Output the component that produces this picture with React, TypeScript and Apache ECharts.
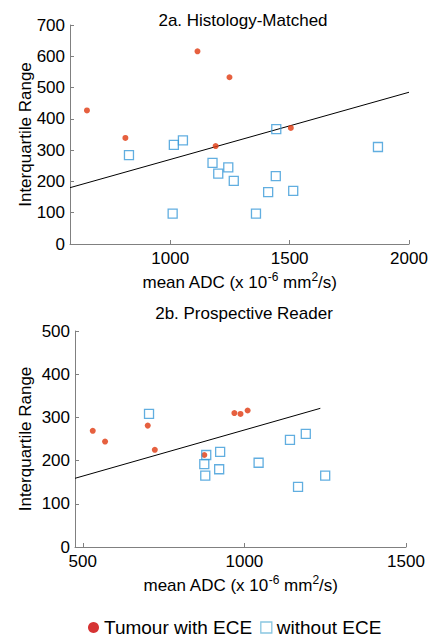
import React, { useEffect, useRef } from "react";
import * as echarts from "echarts";

const histRedX = [651, 812, 1114, 1248, 1190, 1505];
const histRedY = [427, 339, 616, 533, 313, 371];
const histBlueX = [827, 1015, 1053, 1444, 1870, 1177, 1201, 1243, 1266, 1010, 1359, 1410, 1442, 1515];
const histBlueY = [284, 317, 331, 367, 310, 259, 225, 245, 202, 97, 97, 166, 217, 170];
const histFitX = [580, 2000];
const histFitY = [180, 485];

const prospRedX = [531, 569, 701, 723, 876, 969, 988, 1010];
const prospRedY = [269, 244, 281, 225, 213, 310, 308, 316];
const prospBlueX = [705, 882, 925, 1141, 1190, 876, 879, 922, 1044, 1166, 1250];
const prospBlueY = [308, 213, 220, 248, 262, 192, 165, 180, 195, 139, 165];
const prospFitX = [476, 1235];
const prospFitY = [159, 321];

const histXTicks = [1000, 1500, 2000];
const prospXTicks = [500, 1000, 1500];

const titles = ["2a. Histology-Matched", "2b. Prospective Reader"];
const RED = "Tumour with ECE";
const BLUE = "without ECE";

const zip = (xs: number[], ys: number[]) => xs.map((x, i) => [x, ys[i]]);

const FONT = "'Liberation Sans', Arial, sans-serif";
const FS = 17;

export default function App() {
  const ref = useRef<HTMLDivElement>(null);
  useEffect(() => {
    document.body.style.margin = "0";
    const chart = echarts.init(ref.current!, undefined, { renderer: "svg" });
    const axisCommon = {
      axisLine: { show: true, lineStyle: { color: "#808080", width: 1 } },
      axisTick: { show: true, inside: true, length: 4, lineStyle: { color: "#808080" } },
      splitLine: { show: false },
    };
    const xName = "mean ADC (x 10{sup|-6} mm{sup|2}/s)";
    const nameStyle = {
      fontSize: FS,
      color: "#000",
      fontFamily: FONT,
      rich: {
        sup: { fontSize: 12, verticalAlign: "top", padding: [0, 0, 10, 0], color: "#000", fontFamily: FONT },
      },
    };
    const plain = (v: number) => String(v);
    const xAxisFor = (min: number, max: number, ticks: number[], gridIndex: number) => ({
      type: "value",
      gridIndex,
      min,
      max,
      name: xName,
      nameLocation: "middle",
      nameGap: 27,
      nameTextStyle: nameStyle,
      ...axisCommon,
      axisTick: { ...axisCommon.axisTick, customValues: ticks },
      axisLabel: { customValues: ticks, formatter: plain, fontSize: FS, color: "#000", fontFamily: FONT, margin: 6 },
    });
    const yAxisFor = (max: number, gridIndex: number, gap: number) => ({
      type: "value",
      gridIndex,
      min: 0,
      max,
      interval: 100,
      name: "Interquartile Range",
      nameLocation: "middle",
      nameGap: gap,
      nameMoveOverlap: false,
      nameTextStyle: { fontSize: FS, color: "#000", fontFamily: FONT },
      ...axisCommon,
      axisLabel: { formatter: plain, fontSize: FS, color: "#000", fontFamily: FONT, margin: 5 },
    });
    const redSeries = (data: number[][], i: number) => ({
      name: RED,
      type: "scatter",
      xAxisIndex: i,
      yAxisIndex: i,
      data,
      symbol: "circle",
      symbolSize: 6,
      itemStyle: { color: "#e0380f" },
      z: 3,
    });
    const blueSeries = (data: number[][], i: number) => ({
      name: BLUE,
      type: "scatter",
      xAxisIndex: i,
      yAxisIndex: i,
      data,
      symbol: "rect",
      symbolSize: 9,
      itemStyle: { color: "rgba(0,0,0,0)", borderColor: "#3a9ad8", borderWidth: 1.3 },
      z: 4,
    });
    const fitSeries = (data: number[][], i: number) => ({
      name: "fit" + i,
      type: "line",
      xAxisIndex: i,
      yAxisIndex: i,
      data,
      symbol: "none",
      lineStyle: { color: "#000", width: 1 },
      z: 2,
    });
    const titleStyle = { fontSize: FS, fontWeight: "normal", color: "#000", fontFamily: FONT };
    chart.setOption({
      animation: false,
      backgroundColor: "#fff",
      textStyle: { fontFamily: FONT },
      title: [
        { text: titles[0], left: 238, top: 7, textAlign: "center", textStyle: titleStyle },
        { text: titles[1], left: 239, top: 300, textAlign: "center", textStyle: titleStyle },
      ],
      grid: [
        { left: 70, width: 339, top: 25, height: 219 },
        { left: 75, width: 331, top: 331, height: 216 },
      ],
      xAxis: [xAxisFor(580, 2000, histXTicks, 0), xAxisFor(476, 1500, prospXTicks, 1)],
      yAxis: [yAxisFor(700, 0, 36), yAxisFor(500, 1, 41)],
      legend: {
        left: 86,
        top: 616,
        padding: 2,
        itemWidth: 11,
        itemHeight: 11,
        itemGap: 8,
        textStyle: { fontSize: 19, color: "#000", fontFamily: FONT },
        data: [
          { name: RED, icon: "circle", itemStyle: { color: "#cc0000", borderWidth: 0 } },
          { name: BLUE, icon: "rect", itemStyle: { color: "rgba(0,0,0,0)", borderColor: "#6cb8d8", borderWidth: 1.3 } },
        ],
      },
      series: [
        fitSeries(zip(histFitX, histFitY), 0),
        redSeries(zip(histRedX, histRedY), 0),
        blueSeries(zip(histBlueX, histBlueY), 0),
        fitSeries(zip(prospFitX, prospFitY), 1),
        redSeries(zip(prospRedX, prospRedY), 1),
        blueSeries(zip(prospBlueX, prospBlueY), 1),
      ],
    });
    return () => chart.dispose();
  }, []);
  return <div ref={ref} style={{ width: 443, height: 639 }} />;
}
